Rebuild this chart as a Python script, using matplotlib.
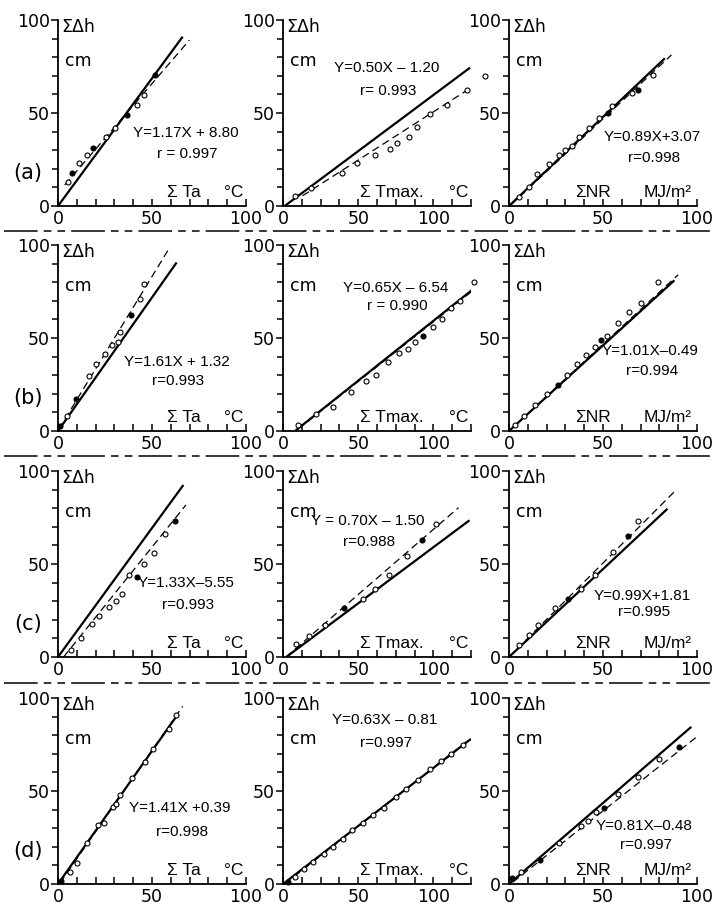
import matplotlib.pyplot as plt
from matplotlib.lines import Line2D
from matplotlib.ticker import MultipleLocator

# ---- data (x = cumulated index, y = cumulated growth, cm) ----
a_ta_x = [5.4, 7.2, 11.3, 15.6, 18.5, 25.6, 30.5, 36.7, 42.1, 45.7, 51.4]
a_ta_y = [13.1, 17.6, 22.9, 27.4, 31.0, 37.3, 41.8, 48.9, 54.3, 59.7, 70.4]
a_ta_filled = [1, 4, 7, 10]
a_ta_solid = [(0, 0), (66.3, 91.0)]
a_ta_dash = [(3.6, 11.3), (69.9, 89.2)]

a_tmax_x = [7.8, 18.9, 38.9, 48.9, 61.1, 71.1, 76.0, 83.8, 89.3, 97.8, 108.9, 122.2, 134.0]
a_tmax_y = [5.4, 9.9, 17.9, 22.9, 27.2, 30.5, 33.7, 37.3, 42.7, 49.3, 54.1, 62.4, 70.0]
a_tmax_filled = []
a_tmax_solid = [(1.1, 0), (124.4, 74.4)]
a_tmax_dash = [(13.0, 5.5), (123.3, 62.7)]

a_nr_x = [5.3, 10.6, 15.0, 21.5, 26.5, 30.0, 33.5, 37.4, 42.3, 48.0, 52.9, 55.0, 65.3, 68.8, 76.7]
a_nr_y = [4.9, 10.4, 17.2, 22.6, 27.4, 30.1, 32.3, 37.3, 42.1, 47.5, 50.2, 53.8, 60.6, 62.4, 70.4]
a_nr_filled = [10, 13]
a_nr_solid = [(0, 0), (82.9, 79.4)]
a_nr_dash = [(0.9, 0.5), (86.4, 81.2)]

b_ta_x = [1.3, 4.8, 9.7, 16.5, 20.0, 25.0, 28.7, 31.7, 33.0, 38.9, 43.4, 46.0]
b_ta_y = [2.7, 8.1, 17.1, 29.7, 36.0, 41.4, 46.3, 47.7, 53.2, 62.5, 70.8, 79.3]
b_ta_filled = [0, 2, 9]
b_ta_solid = [(0, 0), (63.1, 90.6)]
b_ta_dash = [(0.4, 0.9), (58.6, 97.3)]

b_tmax_x = [10, 22, 33, 45, 55, 62, 70, 77, 83, 88, 93, 100, 106, 112, 118, 127]
b_tmax_y = [3, 9, 13, 21, 27, 30, 37, 42, 44, 48, 51, 56, 60, 66, 70, 80]
b_tmax_filled = [10]
b_tmax_solid = [(8, 0), (126, 76)]
b_tmax_dash = [(10, 1), (127, 76)]

b_nr_x = [3, 8, 14, 20, 26, 31, 36, 41, 46, 49, 52, 58, 64, 70, 79]
b_nr_y = [3, 8, 14, 20, 25, 30, 36, 41, 45, 49, 51, 58, 64, 69, 80]
b_nr_filled = [4, 9]
b_nr_solid = [(0, 0), (88, 81)]
b_nr_dash = [(0, 0), (90, 84)]

c_ta_x = [7, 12, 18, 22, 27, 31, 34, 38, 42, 46, 51, 57, 62]
c_ta_y = [4, 10, 18, 22, 27, 30, 34, 44, 43, 50, 56, 66, 73]
c_ta_filled = [8, 12]
c_ta_solid = [(0, 0), (66.7, 92.5)]
c_ta_dash = [(3, 0), (68, 81.7)]

c_tmax_x = [8.4, 17.3, 27.8, 40.7, 53.3, 61.1, 70.7, 82.2, 92.2, 101.8]
c_tmax_y = [7.2, 11.1, 17.0, 26.3, 31.4, 36.7, 43.9, 54.1, 63.1, 71.3]
c_tmax_filled = [3, 8]
c_tmax_solid = [(2.2, 0), (124, 73.5)]
c_tmax_dash = [(2, 0), (116.7, 80.3)]

c_nr_x = [5.3, 10.6, 15.5, 24.3, 31.4, 38.4, 45.9, 55.2, 63.5, 68.8]
c_nr_y = [6.6, 11.6, 17.4, 26.3, 31.4, 36.7, 44.3, 56.4, 65.0, 72.9]
c_nr_filled = [4, 8]
c_nr_solid = [(0, 0), (84.3, 79.7)]
c_nr_dash = [(0, 0), (87.8, 88.7)]

d_ta_x = [1.8, 6.3, 10.2, 15.6, 21.1, 24.6, 29.2, 31.0, 32.8, 39.4, 46.1, 50.7, 59.1, 62.7]
d_ta_y = [1.8, 6.3, 11.3, 22.3, 31.6, 33.0, 41.6, 42.9, 47.7, 56.8, 65.5, 72.7, 83.2, 90.7]
d_ta_filled = [0]
d_ta_solid = [(0, 0), (63.6, 91.0)]
d_ta_dash = [(1, 0.5), (66.3, 95.5)]

d_tmax_x = [3, 8, 14, 20, 27, 33, 40, 46, 53, 60, 67, 75, 82, 90, 98, 105, 112, 120]
d_tmax_y = [1, 4, 8, 12, 16, 20, 24, 29, 33, 37, 41, 47, 51, 56, 62, 66, 70, 75]
d_tmax_filled = [0]
d_tmax_solid = [(0, 0), (125, 78)]
d_tmax_dash = [(1, 0), (126, 79)]

d_nr_x = [1.8, 6.4, 16.4, 26.4, 38.2, 41.8, 46.4, 50.5, 58.2, 68.7, 80.0, 90.5]
d_nr_y = [3.1, 6.4, 12.8, 22.0, 31.2, 33.9, 38.5, 40.9, 48.3, 57.4, 67.3, 73.4]
d_nr_filled = [0, 2, 7, 11]
d_nr_solid = [(0, 0), (97, 84.5)]
d_nr_dash = [(2, 1), (101, 80)]

equations = {
    ("a", "ta"): ("Y=1.17X + 8.80", "r = 0.997"),
    ("a", "tmax"): ("Y=0.50X \u2013 1.20", "r= 0.993"),
    ("a", "nr"): ("Y=0.89X+3.07", "r=0.998"),
    ("b", "ta"): ("Y=1.61X + 1.32", "r=0.993"),
    ("b", "tmax"): ("Y=0.65X \u2013 6.54", "r = 0.990"),
    ("b", "nr"): ("Y=1.01X\u20130.49", "r=0.994"),
    ("c", "ta"): ("Y=1.33X\u20135.55", "r=0.993"),
    ("c", "tmax"): ("Y = 0.70X \u2013 1.50", "r=0.988"),
    ("c", "nr"): ("Y=0.99X+1.81", "r=0.995"),
    ("d", "ta"): ("Y=1.41X +0.39", "r=0.998"),
    ("d", "tmax"): ("Y=0.63X \u2013 0.81", "r=0.997"),
    ("d", "nr"): ("Y=0.81X\u20130.48", "r=0.997"),
}

rows = ["a", "b", "c", "d"]
cols = ["ta", "tmax", "nr"]
col_xmax = {"ta": 100, "tmax": 125, "nr": 100}
col_minor = {"ta": 10, "tmax": 12.5, "nr": 10}
col_xlabel = {"ta": ("\u03a3 Ta", "\u00b0C"), "tmax": ("\u03a3 Tmax.", "\u00b0C"),
              "nr": ("\u03a3NR", "MJ/m\u00b2")}

# ---- layout (pixels of the 716x909 figure) ----
W, H = 716, 909
ax_left = {"ta": 58, "tmax": 283, "nr": 509}
ax_top = {"a": 20, "b": 245, "c": 471, "d": 698}
ax_w, ax_h = 188, 186
# equation centre x, equation y, r y  (x in % of the axis width)
eq_pos = {
    ("a", "ta"): (68, 39, 28), ("a", "tmax"): (55, 74, 62), ("a", "nr"): (76, 37, 26),
    ("b", "ta"): (63, 37, 27), ("b", "tmax"): (60, 77, 67), ("b", "nr"): (75, 43, 32),
    ("c", "ta"): (68, 40, 28), ("c", "tmax"): (45, 73, 62), ("c", "nr"): (71, 33, 24),
    ("d", "ta"): (65, 41, 28), ("d", "tmax"): (54, 88, 76), ("d", "nr"): (72, 31, 21),
}
lab_pos = {"ta": (67, 93.5), "tmax": (58, 93.5), "nr": (44.5, 84.6)}
separators = [231, 456, 683]

eq_font = ["Liberation Sans", "DejaVu Sans"]
plt.rcParams["font.family"] = ["DejaVu Sans"]

fig = plt.figure(figsize=(W / 100, H / 100), dpi=100)

for r in rows:
    for c in cols:
        g = globals()
        xs, ys = g[f"{r}_{c}_x"], g[f"{r}_{c}_y"]
        filled = g[f"{r}_{c}_filled"]
        solid, dash = g[f"{r}_{c}_solid"], g[f"{r}_{c}_dash"]

        ax = fig.add_axes([ax_left[c] / W, 1 - (ax_top[r] + ax_h) / H, ax_w / W, ax_h / H])
        ax.set_xlim(0, col_xmax[c])
        ax.set_ylim(0, 100)
        for s in ["top", "right"]:
            ax.spines[s].set_visible(False)
        for s in ["left", "bottom"]:
            ax.spines[s].set_linewidth(1.3)
        ax.xaxis.set_major_locator(MultipleLocator(50))
        ax.xaxis.set_minor_locator(MultipleLocator(col_minor[c]))
        ax.yaxis.set_major_locator(MultipleLocator(50))
        ax.yaxis.set_minor_locator(MultipleLocator(10))
        ax.tick_params(axis="x", which="both", direction="in", length=5, width=1.1,
                       labelsize=12.5, pad=3)
        ax.tick_params(axis="y", which="both", direction="out", length=4, width=1.1,
                       labelsize=12.5, pad=1)
        ax.tick_params(axis="y", which="major", length=5)

        ax.plot([p[0] for p in solid], [p[1] for p in solid], color="black", lw=1.6,
                solid_capstyle="butt")
        ax.plot([p[0] for p in dash], [p[1] for p in dash], color="black", lw=0.9,
                dashes=(6, 3.5))
        for i, (x, y) in enumerate(zip(xs, ys)):
            ax.plot(x, y, "o", ms=3.6, mew=0.8, mec="black",
                    mfc="black" if i in filled else "white", clip_on=False, zorder=3)

        # axis-relative text positions (percent of width / height)
        tr = ax.transAxes
        ax.text(0.015, 0.96, "\u03a3\u0394h", fontsize=12.5, ha="left", va="center",
                transform=tr)
        ax.text(0.035, 0.78, "cm", fontsize=12.5, ha="left", va="center", transform=tr)
        lx1, lx2 = lab_pos[c]
        ax.text(lx1 / 100, 0.07, col_xlabel[c][0], fontsize=12.5, ha="center",
                va="center", family=eq_font, transform=tr)
        ax.text(lx2 / 100, 0.075, col_xlabel[c][1], fontsize=12.5, ha="center",
                va="center", family=eq_font, transform=tr)

        ex, ey, ry = eq_pos[(r, c)]
        eq, rr = equations[(r, c)]
        ax.text(ex / 100, ey / 100, eq, fontsize=11, ha="center", va="center",
                family=eq_font, transform=tr)
        ax.text(ex / 100 + 0.01, ry / 100, rr, fontsize=11, ha="center", va="center",
                family=eq_font, transform=tr)

        if c == "ta":
            ax.text(-0.16, 0.18, f"({r})", fontsize=15, ha="center", va="center",
                    transform=tr)

for yp in separators:
    fig.add_artist(Line2D([0.005, 0.995], [1 - yp / H, 1 - yp / H], color="black",
                          lw=1.1, dashes=(22, 4, 5, 4, 5, 4)))

fig.savefig("out.png", dpi=100)
